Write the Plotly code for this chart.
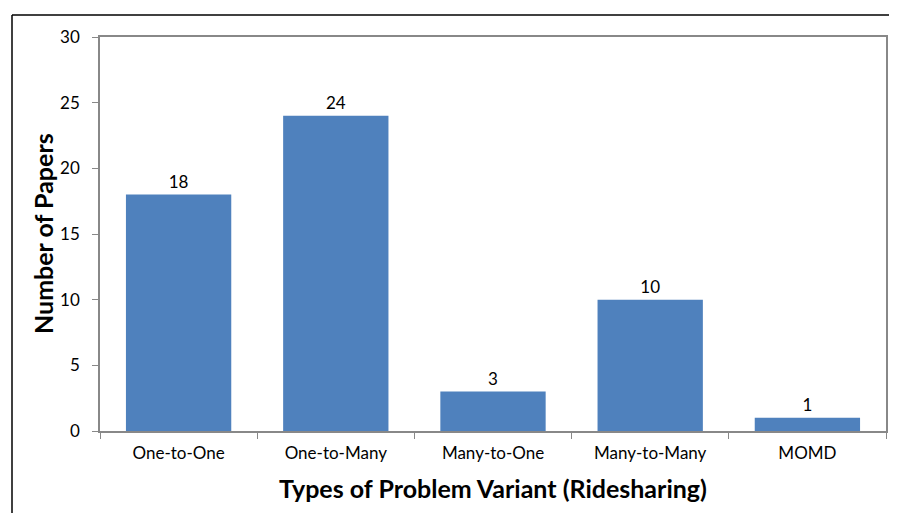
import plotly.graph_objects as go

categories = ["One-to-One", "One-to-Many", "Many-to-One", "Many-to-Many", "MOMD"]
papers = [18, 24, 3, 10, 1]
y_ticks = [0, 5, 10, 15, 20, 25, 30]

# the page body adds an 8px offset, so the figure is laid out 8px up/left
W, H = 889, 505
L, R, T, B = 92, 11, 29, 82
pw = W - L - R
ph = H - T - B

FONT = "Lato, Carlito, sans-serif"

fig = go.Figure(go.Bar(
    x=categories, y=papers, marker_color="#4F81BD", marker_line_width=0,
    text=[str(v) for v in papers], textposition="outside",
    textfont=dict(family=FONT, size=17, color="black"),
    cliponaxis=False,
))

axis_gray = "#888888"
fig.update_layout(
    width=W, height=H,
    margin=dict(l=L, r=R, t=T, b=B, autoexpand=False),
    paper_bgcolor="white", plot_bgcolor="white",
    bargap=0.33,
    showlegend=False,
    font=dict(family=FONT, color="black"),
    xaxis=dict(
        automargin=False,
        showline=True, linecolor=axis_gray, linewidth=1.5, mirror=True,
        ticks="outside", tickson="boundaries", ticklen=6, tickcolor=axis_gray,
        tickfont=dict(size=17), showgrid=False, ticklabelstandoff=6,
        title=dict(text="<b>Types of Problem Variant (Ridesharing)</b>", font=dict(size=25), standoff=18),
    ),
    yaxis=dict(
        automargin=False,
        range=[0, 30], tickvals=y_ticks, showline=True, linecolor=axis_gray, linewidth=1.5,
        mirror=True, ticks="outside", ticklen=6, tickcolor=axis_gray,
        tickfont=dict(size=17), showgrid=False, zeroline=False, ticklabelstandoff=9,
    ),
    annotations=[dict(
        text="<b>Number of Papers</b>", textangle=-90, showarrow=False,
        xref="paper", yref="paper", x=(35 - L) / pw, y=(H - B - 226) / ph,
        xanchor="center", yanchor="middle", font=dict(size=25),
    )],
)

x_left = (4 - L) / pw
y_top = (H - B - 7) / ph
fig.add_shape(type="line", xref="paper", yref="paper", x0=x_left, x1=(888 - L) / pw,
              y0=y_top, y1=y_top, line=dict(color="black", width=1.5))
fig.add_shape(type="line", xref="paper", yref="paper", x0=x_left, x1=x_left,
              y0=y_top, y1=(H - B - 520) / ph, line=dict(color="black", width=1.5))

fig.write_html("out.html")
